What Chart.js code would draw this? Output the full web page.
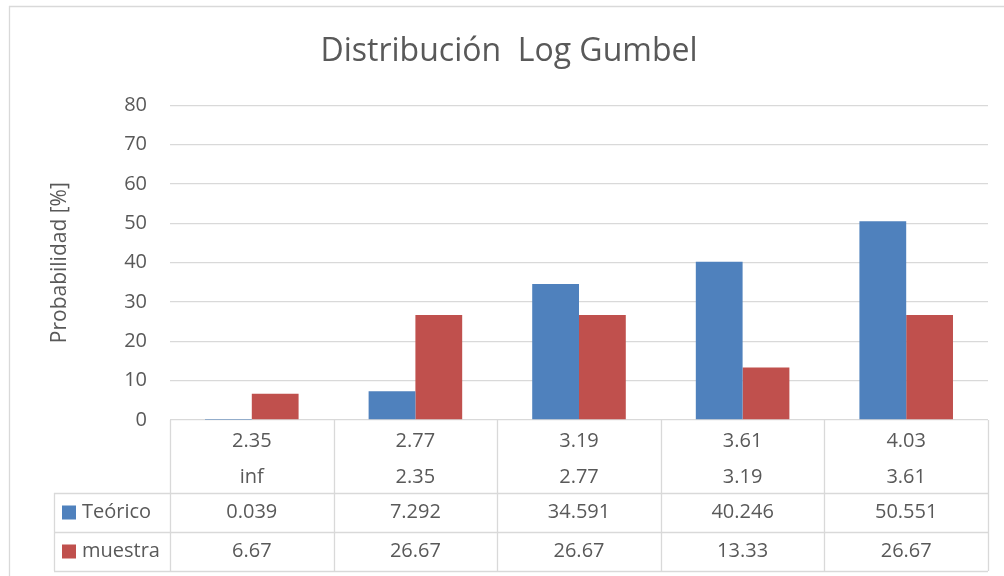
<!DOCTYPE html>
<html lang="es">
<head>
<meta charset="UTF-8">
<title>Distribución Log Gumbel</title>
<script src="https://cdn.jsdelivr.net/npm/chart.js"></script>
<style>
  html, body { margin: 0; padding: 0; background: #fff; }
  #chart { display: block; }
</style>
</head>
<body>
<canvas id="chart" width="1004" height="576"></canvas>
<script>
// Data
const upperBounds = ['2.35', '2.77', '3.19', '3.61', '4.03'];
const lowerBounds = ['inf', '2.35', '2.77', '3.19', '3.61'];
const teorico = [0.039, 7.292, 34.591, 40.246, 50.551];
const muestra = [6.67, 26.67, 26.67, 13.33, 26.67];
const yMin = 0;
const yMax = 80;
const yStep = 10;

const textColor = '#595959';
const lineColor = '#D9D9D9';
const fontFamily = "'Open Sans', sans-serif";

Chart.defaults.font.family = fontFamily;
Chart.defaults.color = textColor;

// Outer frame of the chart object (only top and left edges are visible)
const framePlugin = {
  id: 'frame',
  beforeDraw(chart) {
    const ctx = chart.ctx;
    ctx.save();
    ctx.strokeStyle = lineColor;
    ctx.lineWidth = 1.3;
    ctx.beginPath();
    ctx.moveTo(9, 6.5);
    ctx.lineTo(chart.width, 6.5);
    ctx.moveTo(9.5, 6);
    ctx.lineTo(9.5, chart.height);
    ctx.stroke();
    ctx.restore();
  }
};

// Data table under the x axis
const tablePlugin = {
  id: 'dataTable',
  afterDraw(chart) {
    const ctx = chart.ctx;
    const xs = chart.scales.x;
    const top = xs.top;
    const headH = 73;
    const rowH = 39;
    const legendLeft = 54;
    const n = upperBounds.length;
    const colW = (chart.chartArea.right - chart.chartArea.left) / n;
    const left = xs.getPixelForValue(0) - colW / 2;
    const right = xs.getPixelForValue(n - 1) + colW / 2;
    const bottom = top + headH + 2 * rowH;

    ctx.save();
    ctx.strokeStyle = lineColor;
    ctx.lineWidth = 1.3;
    ctx.beginPath();
    for (let i = 0; i <= n; i++) {
      const x = Math.round(left + i * colW) + 0.5;
      ctx.moveTo(x, top);
      ctx.lineTo(x, bottom);
    }
    ctx.moveTo(legendLeft + 0.5, top + headH);
    ctx.lineTo(legendLeft + 0.5, bottom);
    [headH, headH + rowH, headH + 2 * rowH].forEach(r => {
      const y = Math.round(top + r) + 0.5;
      ctx.moveTo(legendLeft, y);
      ctx.lineTo(right, y);
    });
    ctx.stroke();

    ctx.font = '20px ' + fontFamily;
    ctx.fillStyle = textColor;
    ctx.textBaseline = 'middle';
    chart.data.datasets.forEach((ds, d) => {
      const cy = top + headH + rowH * d + rowH / 2;
      ctx.fillStyle = ds.backgroundColor;
      ctx.fillRect(62, cy - 7, 14, 14);
      ctx.fillStyle = textColor;
      ctx.textAlign = 'left';
      ctx.fillText(ds.label, 82, cy);
      ctx.textAlign = 'center';
      ds.data.forEach((v, i) => {
        ctx.fillText(v.toFixed(ds.decimals), xs.getPixelForValue(i), cy);
      });
    });
    ctx.restore();
  }
};

const ctx = document.getElementById('chart').getContext('2d');
new Chart(ctx, {
  type: 'bar',
  data: {
    labels: upperBounds.map((u, i) => [u, lowerBounds[i]]),
    datasets: [
      {
        label: 'Teórico',
        data: teorico,
        decimals: 3,
        backgroundColor: '#4F81BD',
        categoryPercentage: 0.572,
        barPercentage: 1
      },
      {
        label: 'muestra',
        data: muestra,
        decimals: 2,
        backgroundColor: '#C0504D',
        categoryPercentage: 0.572,
        barPercentage: 1
      }
    ]
  },
  options: {
    responsive: false,
    animation: false,
    layout: { padding: { left: 30, right: 16, top: 6, bottom: 6 } },
    plugins: {
      legend: { display: false },
      tooltip: { enabled: false },
      title: {
        display: true,
        text: 'Distribución  Log Gumbel',
        color: textColor,
        font: { size: 32, weight: 'normal' },
        padding: { top: 27, bottom: 34 }
      }
    },
    scales: {
      x: {
        grid: { display: false },
        border: { display: false },
        ticks: {
          color: textColor,
          font: { size: 20, lineHeight: 1.8 },
          padding: -5,
          maxRotation: 0,
          autoSkip: false
        },
        afterFit(scale) { scale.height = 150; }
      },
      y: {
        min: yMin,
        max: yMax,
        grid: { color: lineColor, lineWidth: 1.3, drawTicks: false },
        border: { display: false },
        ticks: {
          stepSize: yStep,
          color: textColor,
          font: { size: 20 },
          padding: 23
        },
        title: {
          display: true,
          text: 'Probabilidad [%]',
          color: textColor,
          font: { size: 21 },
          padding: { top: 17, bottom: 0 }
        },
        afterFit(scale) { scale.width = 140; }
      }
    }
  },
  plugins: [framePlugin, tablePlugin]
});
</script>
</body>
</html>
